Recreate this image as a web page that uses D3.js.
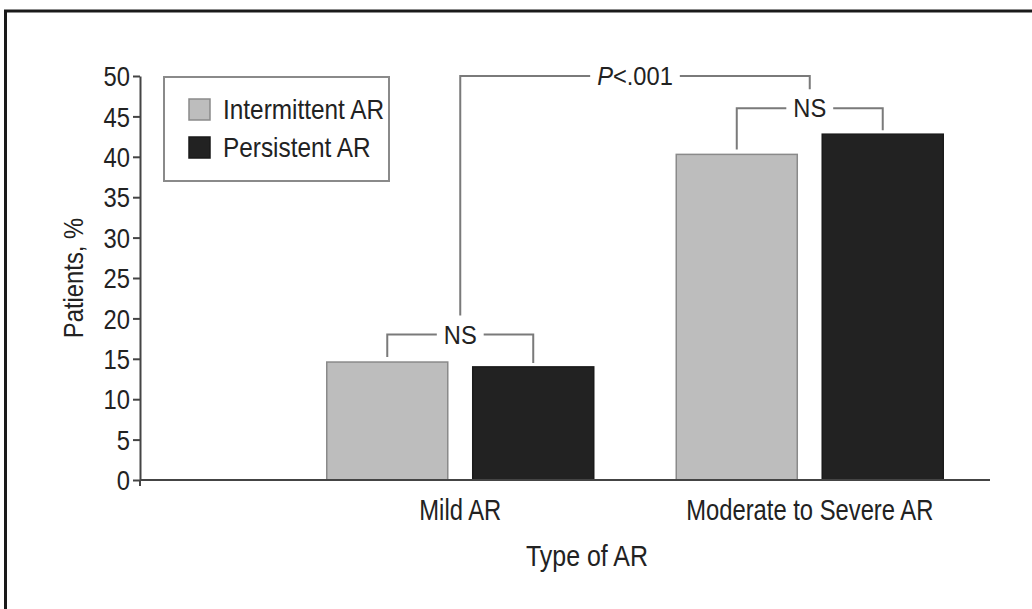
<!DOCTYPE html>
<html>
<head>
<meta charset="utf-8">
<script src="https://cdn.jsdelivr.net/npm/d3@7"></script>
<style>
  body { margin: 0; background: #fff; }
  svg text { font-family: "Liberation Sans", Arial, sans-serif; fill: #222; }
</style>
</head>
<body>
<script>
// data
var categories = ["Mild AR", "Moderate to Severe AR"];
var seriesNames = ["Intermittent AR", "Persistent AR"];
var intermittent = [14.6, 40.3];
var persistent = [14.0, 42.8];
var yTicks = [0, 5, 10, 15, 20, 25, 30, 35, 40, 45, 50];
var nsLevels = [18, 46];      // height of the NS bracket over each category
var pLevel = 50;              // height of the between-category bracket
var pLabel = ["P", "<.001"];

var colors = ["#bdbdbd", "#222222"];
var strokes = ["#8a8a8a", "#1a1a1a"];

var w = 1032, h = 609;

// squeeze text horizontally to mimic the condensed face of the original
function condense(sel, k){
	sel.each(function(){
		var len = this.getComputedTextLength();
		d3.select(this)
			.attr("textLength", len * k)
			.attr("lengthAdjust", "spacingAndGlyphs");
	});
}

var svg = d3.select("body")
	.append("svg")
	.attr("width", w)
	.attr("height", h);

// frame around the figure (runs off the right/bottom edge like the scan)
svg.append("rect")
	.attr("x", 5.5).attr("y", 11)
	.attr("width", 1100).attr("height", 700)
	.attr("fill", "none")
	.attr("stroke", "#1a1a1a")
	.attr("stroke-width", 3);

var y = d3.scaleLinear().domain([0, 50]).range([480, 76]);

var x0 = d3.scaleBand().domain(categories).range([285.5, 984.5]);
var x1 = d3.scaleBand().domain(seriesNames).range([-133.5, 133.5]).paddingInner(0.171);

var rows = categories.map(function(c, i){
	return { cat: c, values: [intermittent[i], persistent[i]] };
});

// bars
var groups = svg.selectAll("g.grp")
	.data(rows)
	.enter()
	.append("g")
	.attr("class", "grp")
	.attr("transform", function(d){ return "translate(" + (x0(d.cat) + x0.bandwidth()/2) + ",0)"; });

groups.selectAll("rect")
	.data(function(d){ return d.values.map(function(v, j){ return { s: seriesNames[j], v: v, j: j }; }); })
	.enter()
	.append("rect")
	.attr("x", function(d){ return x1(d.s); })
	.attr("y", function(d){ return y(d.v); })
	.attr("width", x1.bandwidth())
	.attr("height", function(d){ return y(0) - y(d.v); })
	.attr("fill", function(d){ return colors[d.j]; })
	.attr("stroke", function(d){ return strokes[d.j]; })
	.attr("stroke-width", 1.5);

// y axis
var yAxis = svg.append("g")
	.attr("transform", "translate(140,0)")
	.call(d3.axisLeft(y).tickValues(yTicks).tickSize(7).tickSizeOuter(0).tickPadding(3));
yAxis.selectAll("path, line").attr("stroke", "#444").attr("stroke-width", 2);
yAxis.selectAll("text")
	.attr("font-family", null)
	.style("font-size", "27px")
	.attr("dy", "0.36em")
	.call(condense, 0.88);
svg.append("line")
	.attr("x1", 140).attr("x2", 140)
	.attr("y1", y(0)).attr("y2", y(0) + 6)
	.attr("stroke", "#444").attr("stroke-width", 2);

// x axis
svg.append("line")
	.attr("x1", 140).attr("x2", 990)
	.attr("y1", y(0)).attr("y2", y(0))
	.attr("stroke", "#444").attr("stroke-width", 2);
var xAxis = svg.append("g")
	.attr("transform", "translate(0," + y(0) + ")")
	.call(d3.axisBottom(x0).tickSize(0).tickPadding(19));
xAxis.select(".domain").remove();
xAxis.selectAll("text")
	.attr("font-family", null)
	.style("font-size", "29px")
	.call(condense, 0.82);

// axis titles
svg.append("text")
	.attr("x", 587).attr("y", 566)
	.attr("text-anchor", "middle")
	.style("font-size", "29px")
	.text("Type of AR")
	.call(condense, 0.86);

svg.append("text")
	.attr("transform", "translate(83,278) rotate(-90)")
	.attr("text-anchor", "middle")
	.style("font-size", "28px")
	.text("Patients, %")
	.call(condense, 0.85);

// legend
var legend = svg.append("g").attr("transform", "translate(164,77)");
legend.append("rect")
	.attr("width", 225).attr("height", 104)
	.attr("fill", "#fff")
	.attr("stroke", "#8a8a8a")
	.attr("stroke-width", 2);
var li = legend.selectAll("g.item")
	.data(seriesNames)
	.enter()
	.append("g")
	.attr("class", "item")
	.attr("transform", function(d, i){ return "translate(0," + (i * 38) + ")"; });
li.append("rect")
	.attr("x", 25).attr("y", 22)
	.attr("width", 21).attr("height", 21)
	.attr("fill", function(d, i){ return colors[i]; })
	.attr("stroke", function(d, i){ return strokes[i]; })
	.attr("stroke-width", 1.5);
li.append("text")
	.attr("x", 59).attr("y", 42)
	.style("font-size", "28px")
	.text(function(d){ return d; })
	.call(condense, 0.87);

// significance brackets
var brColor = "#7a7a7a";

function bracket(xa, ya, xb, yb, level, build){
	var g = svg.append("g");
	var yl = y(level);
	var t = g.append("text")
		.attr("x", (xa + xb)/2)
		.attr("y", yl + 9)
		.attr("text-anchor", "middle")
		.style("font-size", "26px");
	build(t);
	t.call(condense, 0.91);
	var tw = t.node().getComputedTextLength();
	var cx = (xa + xb)/2;
	g.append("path")
		.attr("d", "M" + xa + "," + ya + "V" + yl + "H" + (cx - tw/2 - 7))
		.attr("fill", "none").attr("stroke", brColor).attr("stroke-width", 2);
	g.append("path")
		.attr("d", "M" + (cx + tw/2 + 7) + "," + yl + "H" + xb + "V" + yb)
		.attr("fill", "none").attr("stroke", brColor).attr("stroke-width", 2);
}

rows.forEach(function(d, i){
	var c = x0(d.cat) + x0.bandwidth()/2;
	var xa = c + x1(seriesNames[0]) + x1.bandwidth()/2;
	var xb = c + x1(seriesNames[1]) + x1.bandwidth()/2;
	bracket(xa, y(d.values[0]) - 5, xb, y(d.values[1]) - 4, nsLevels[i], function(t){ t.text("NS"); });
});

bracket(
	x0(categories[0]) + x0.bandwidth()/2, y(nsLevels[0]) - 19,
	x0(categories[1]) + x0.bandwidth()/2, y(nsLevels[1]) - 19,
	pLevel,
	function(t){
		t.append("tspan").style("font-style", "italic").text(pLabel[0]);
		t.append("tspan").text(pLabel[1]);
	});
</script>
</body>
</html>
